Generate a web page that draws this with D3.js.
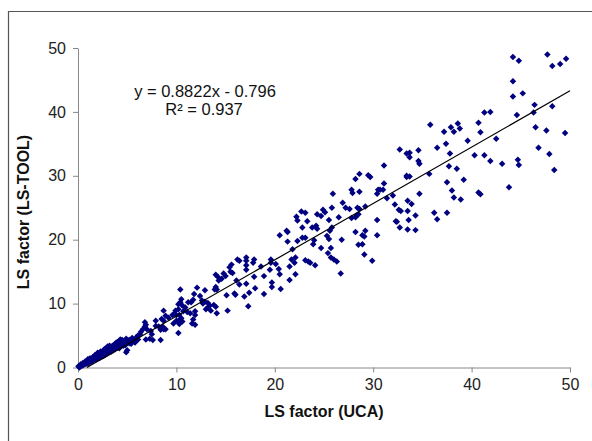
<!DOCTYPE html>
<html><head><meta charset="utf-8">
<script src="https://cdn.jsdelivr.net/npm/d3@7"></script>
<style>
html,body{margin:0;padding:0;background:#fff;}
svg{display:block;font-family:"Liberation Sans",Arial,sans-serif;}
</style></head>
<body>
<svg id="chart" width="592" height="441"></svg>
<script>
// ---- data ----
const xTicks = [0, 10, 20, 30, 40, 50];
const yTicks = [0, 10, 20, 30, 40, 50];
const xTitle = "LS factor (UCA)";
const yTitle = "LS factor (LS-TOOL)";
const trendSlope = 0.8822;
const trendIntercept = -0.796;
const equationText = "y = 0.8822x - 0.796";
const r2Text = "R² = 0.937";

// low range points (UCA, LS-TOOL)
const lowPoints = [
 [0.1,0.1],[0.2,0.3],[0.3,0.2],[0.4,0.4],[0.5,0.3],[0.6,0.6],[0.7,0.5],[0.8,0.8],[0.9,0.6],[1.0,0.9],
 [1.1,0.7],[1.2,1.0],[1.3,0.9],[1.4,1.2],[1.5,1.0],[1.6,1.3],[1.7,1.5],[1.8,1.2],[1.9,1.6],[2.0,1.4],
 [2.1,1.8],[2.2,1.5],[2.3,1.9],[2.4,1.7],[2.5,2.1],[2.6,1.8],[2.7,2.3],[2.8,2.0],[2.9,2.5],[3.0,2.2],
 [3.1,2.7],[3.2,2.4],[3.3,2.9],[3.4,2.5],[3.5,3.0],[3.6,2.7],[3.7,3.2],[3.8,2.9],[3.9,3.4],[4.0,3.1],
 [4.1,3.6],[4.2,3.0],[4.3,3.3],[4.5,3.8],[4.6,3.4],[4.7,4.0],[4.8,3.5],[5.0,4.1],[5.2,3.8],[0.3,0.5],
 [0.5,0.7],[0.9,1.0],[1.3,1.4],[1.8,1.9],[2.2,2.2],[2.6,2.6],[3.0,3.0],[3.3,3.2],[3.7,3.6],[4.4,4.1],
 [2.4,2.4],[1.1,1.2],[2.8,2.7],[3.5,3.4],[4.1,4.0],[1.5,1.6],[2.0,2.0],[2.9,2.9],[3.8,3.7],[4.9,4.5],
 [5.5,4.6],[0.15,0.0],[0.05,0.2],[0.7,0.9],[4.2,4.2],[4.5,4.3],[4.9,2.4],[5.0,2.7],[3.6,3.1],[3.5,2.9],
 [1.2,1.4],[1.7,1.9],[2.3,2.5],[2.7,2.9],[3.2,3.4],[3.9,3.9],[4.3,4.4],[2.0,2.3],[3.0,3.3],[1.0,1.3]
];
// mid range points
const midPoints = [
 [5.4,3.7],[5.8,3.9],[5.2,4.3],[5.0,4.2],[4.4,4.2],[4.4,3.7],[4.0,3.9],[3.8,3.6],[5.6,4.3],[5.9,4.7],
 [6.1,4.4],[6.1,5.0],[6.3,5.2],[6.4,5.6],[6.6,6.0],[7.0,6.0],[6.8,6.4],[6.9,6.7],[6.8,7.1],[6.9,4.4],
 [7.3,4.5],[7.6,4.3],[7.4,5.7],[7.5,5.2],[7.9,6.5],[8.2,6.4],[7.9,7.3],[8.5,7.6],[8.7,7.3],[8.6,6.4],
 [8.7,6.0],[8.4,5.9],[8.9,6.0],[8.4,4.3],[8.7,8.9],[8.9,8.1],[9.2,7.8],[9.7,6.9],[9.6,8.2],[9.9,8.9],
 [9.8,8.4],[10.0,8.2],[10.3,8.2],[10.5,7.7],[10.6,7.2],[10.2,7.3],[10.0,7.3],[10.3,6.8],[10.2,5.4],[10.4,12.2],
 [12.1,12.5],[11.8,11.5],[12.4,11.2],[12.6,10.5],[11.7,10.6],[11.5,10.2],[11.2,10.2],[10.9,9.4],[10.5,10.7],[10.4,10.2],
 [10.2,9.9],[10.6,9.7],[10.2,9.1],[10.7,8.8],[11.1,8.7],[11.4,8.5],[11.9,8.8],[11.9,8.2],[11.7,7.5],[11.9,6.7],
 [11.6,6.9],[12.9,10.3],[13.2,10.1],[13.4,9.7],[13.2,9.4],[13.0,9.1],[13.8,9.8],[14.0,9.5],[14.1,8.5],[13.5,8.9],
 [12.7,10.0],[12.9,12.1],[14.0,14.5],[14.2,14.2],[14.8,14.7],[14.3,13.6],[14.0,12.6],[13.9,12.2],[14.1,12.2],[14.6,13.9],
 [15.0,14.3],[15.4,15.7],[15.5,15.0],[15.7,14.8],[15.6,16.1],[16.1,13.6],[15.1,11.3],[15.9,11.6],[16.0,11.4],[16.4,13.0],
 [17.1,13.1],[16.9,11.1],[17.4,11.7],[18.0,12.4],[17.9,14.2],[18.9,11.5],[17.3,9.6],[15.2,8.9],[16.2,16.9],[16.4,16.7],
 [17.1,17.2],[17.1,16.7],[17.9,16.9],[17.1,16.0],[17.8,16.4],[17.1,15.3],[18.6,15.8],[19.5,15.3],[18.9,14.3],[19.7,13.3],
 [19.7,12.6],[19.6,16.9],[19.6,16.4]
];
// high range points
const highPoints = [
 [20.5,20.7],[21.2,21.4],[21.3,21.2],[21.3,19.7],[21.8,18.5],[22.3,19.8],[21.7,16.9],[22.0,16.4],[22.1,17.2],[23.1,16.8],
 [23.4,16.6],[23.6,16.4],[24.1,16.0],[22.1,14.6],[21.5,15.8],[20.5,14.6],[20.4,15.4],[20.1,16.2],[21.5,13.7],[20.6,12.3],
 [23.1,24.2],[22.7,24.4],[22.2,23.6],[22.3,23.0],[22.8,21.9],[23.3,22.9],[23.8,21.9],[24.2,22.2],[24.3,21.7],[25.5,23.1],
 [26.5,23.5],[24.9,24.7],[25.1,24.3],[24.3,24.0],[24.7,23.7],[25.8,25.0],[25.9,27.2],[26.9,25.8],[27.2,25.0],[27.6,24.8],
 [28.4,25.0],[28.6,24.8],[29.2,25.2],[28.2,23.5],[28.5,24.0],[28.3,23.8],[27.8,23.4],[25.8,21.9],[25.6,21.4],[25.3,20.6],
 [25.5,20.1],[26.8,20.0],[24.0,19.9],[23.9,19.3],[22.8,20.3],[23.1,20.3],[24.7,18.7],[25.7,18.7],[25.4,17.9],[25.7,17.2],
 [26.0,16.9],[26.3,16.6],[26.7,14.7],[28.2,21.2],[28.9,20.7],[29.1,20.5],[29.2,21.4],[28.5,19.2],[28.9,19.3],[29.1,17.7],
 [29.9,16.7],[28.2,29.5],[28.6,30.3],[29.5,30.1],[29.7,29.8],[27.8,27.8],[27.9,27.3],[28.6,27.5],[30.4,23.1],[30.4,20.7],
 [32.7,34.1],[33.4,33.5],[33.7,33.6],[33.7,32.9],[34.6,34.0],[34.6,32.3],[34.7,31.9],[31.1,31.6],[33.4,30.0],[33.7,29.9],
 [33.4,29.8],[31.1,28.8],[30.5,27.8],[30.7,27.8],[31.0,27.8],[30.4,27.2],[31.4,26.5],[32.0,26.9],[32.2,25.5],[33.5,26.1],
 [33.9,25.6],[32.6,24.7],[32.8,24.5],[33.5,24.5],[34.3,23.8],[32.3,22.9],[32.4,22.8],[33.6,23.1],[32.7,21.9],[33.5,21.6],
 [34.3,21.5],[34.7,27.2],[35.8,38.0],[37.2,36.9],[37.9,37.6],[38.2,36.9],[38.6,38.2],[38.8,37.4],[36.5,34.4],[37.4,35.0],
 [37.8,33.5],[35.7,30.3],[37.7,31.5],[38.5,31.1],[37.5,29.0],[39.2,29.4],[38.0,27.7],[38.2,26.6],[38.9,26.3],[36.2,24.2],
 [36.5,23.2],[37.5,24.2],[44.2,48.6],[44.8,48.0],[47.7,49.0],[48.2,47.2],[49.0,47.5],[49.6,48.3],[44.2,44.8],[45.2,42.9],
 [44.2,42.4],[44.6,39.5],[46.4,41.1],[46.3,39.9],[48.2,40.9],[41.3,39.9],[41.9,40.0],[40.7,38.3],[40.9,36.8],[42.5,35.8],
 [39.6,35.5],[46.5,37.6],[47.6,37.1],[49.5,36.7],[46.8,34.4],[47.9,33.4],[44.7,32.5],[44.8,31.7],[48.4,30.9],[40.3,33.2],
 [41.3,33.2],[41.9,32.3],[43.1,31.9],[43.8,28.2],[40.7,27.4],[40.9,27.1]
];

// ---- drawing ----
const svg = d3.select("#chart");
const x = d3.scaleLinear().domain([0, 50]).range([78, 570]);
const y = d3.scaleLinear().domain([0, 50]).range([367.5, 48]);

// outer frame (top and left edges visible)
svg.append("path")
  .attr("d", "M8.5,441 L8.5,11.5 L592,11.5")
  .attr("fill", "none").attr("stroke", "#555").attr("stroke-width", 1.2);

const axisColor = "#888";
const gx = svg.append("g").attr("transform", `translate(0,${y(0)})`)
  .call(d3.axisBottom(x).tickValues(xTicks).tickSize(5).tickPadding(6).tickSizeOuter(0));
const gy = svg.append("g").attr("transform", `translate(${x(0)},0)`)
  .call(d3.axisLeft(y).tickValues(yTicks).tickSize(5).tickPadding(7).tickSizeOuter(0));
[gx, gy].forEach(g => {
  g.select(".domain").attr("stroke", axisColor);
  g.selectAll(".tick line").attr("stroke", axisColor);
  g.selectAll(".tick text").attr("fill", "#222").style("font-size", "16px")
   .style("font-family", '"Liberation Sans", Arial, sans-serif');
});

const allPoints = lowPoints.concat(midPoints, highPoints);
const marker = d3.symbol().type(d3.symbolSquare).size(21);
svg.append("g").selectAll("path").data(allPoints).join("path")
  .attr("d", marker)
  .attr("transform", d => `translate(${x(d[0])},${y(d[1])}) rotate(45)`)
  .attr("fill", "#000080");

// trend line (clipped at y = 0)
const x0 = -trendIntercept / trendSlope;
svg.append("line")
  .attr("x1", x(x0)).attr("y1", y(trendSlope * x0 + trendIntercept))
  .attr("x2", x(50)).attr("y2", y(trendSlope * 50 + trendIntercept))
  .attr("stroke", "#000").attr("stroke-width", 1.2);

svg.append("text").attr("x", 205).attr("y", 97).attr("text-anchor", "middle")
  .style("font-size", "16.5px").attr("fill", "#111").text(equationText);
svg.append("text").attr("x", 204).attr("y", 115).attr("text-anchor", "middle")
  .style("font-size", "16.5px").attr("fill", "#111").text(r2Text);

svg.append("text").attr("x", 324).attr("y", 417).attr("text-anchor", "middle")
  .style("font-size", "16px").style("font-weight", "bold").attr("fill", "#111").text(xTitle);
svg.append("text").attr("transform", "translate(29,212) rotate(-90)").attr("text-anchor", "middle")
  .style("font-size", "16px").style("font-weight", "bold").attr("fill", "#111").text(yTitle);
</script>
</body></html>
